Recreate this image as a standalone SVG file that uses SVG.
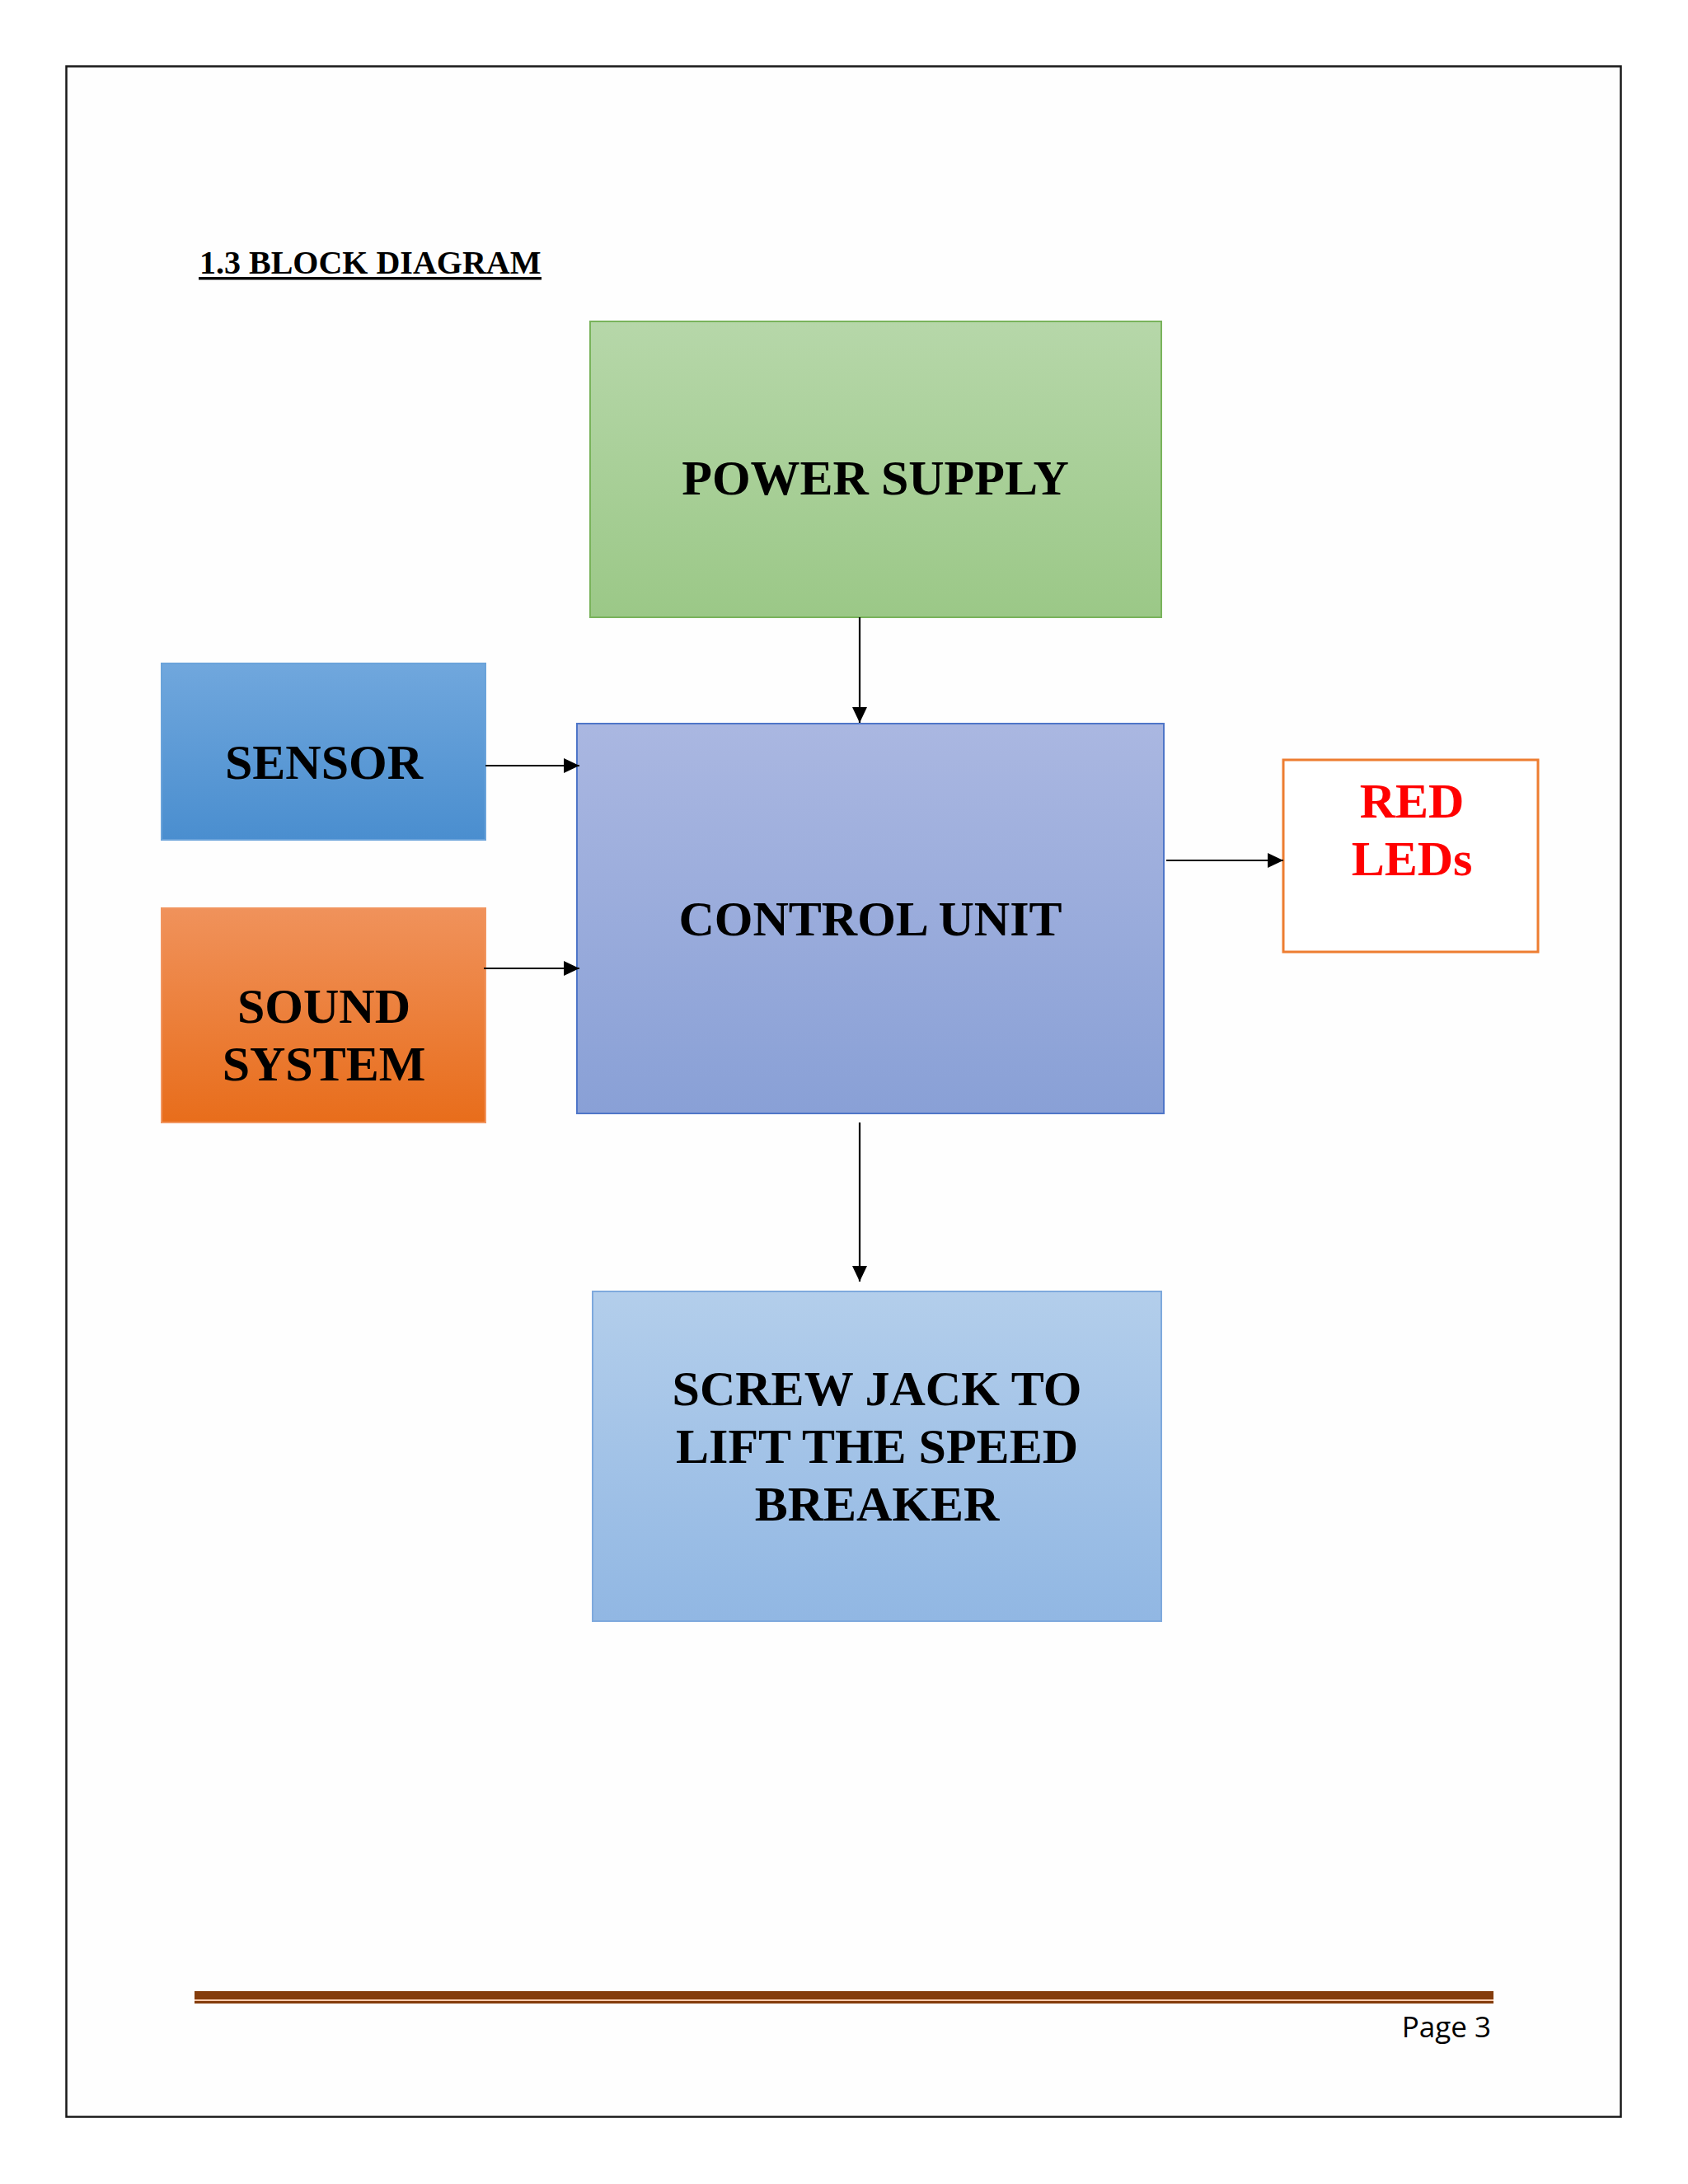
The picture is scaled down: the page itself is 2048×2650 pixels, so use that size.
<svg xmlns="http://www.w3.org/2000/svg" width="2048" height="2650" viewBox="0 0 2048 2650">
  <style>
    .lbl { font-family: "Liberation Serif", "Times New Roman", serif; font-weight: bold; font-size: 60px; fill: #000; text-anchor: middle; }
    .conn { stroke: #000; stroke-width: 2.2; fill: none; marker-end: url(#arrow); }
  </style>
  <defs>
    <marker id="arrow" markerUnits="userSpaceOnUse" markerWidth="20" markerHeight="20" viewBox="0 0 20 20" refX="19" refY="10" orient="auto">
      <path d="M0,1 L19,10 L0,19 Z" fill="#000"/>
    </marker>
    <linearGradient id="gPower" x1="0" y1="0" x2="0" y2="1">
      <stop offset="0" stop-color="#b6d7a9"/>
      <stop offset="1" stop-color="#9bc887"/>
    </linearGradient>
    <linearGradient id="gSensor" x1="0" y1="0" x2="0" y2="1">
      <stop offset="0" stop-color="#70a7dd"/>
      <stop offset="1" stop-color="#4a8ecf"/>
    </linearGradient>
    <linearGradient id="gSound" x1="0" y1="0" x2="0" y2="1">
      <stop offset="0" stop-color="#f0925b"/>
      <stop offset="1" stop-color="#e86d1b"/>
    </linearGradient>
    <linearGradient id="gControl" x1="0" y1="0" x2="0" y2="1">
      <stop offset="0" stop-color="#aab7e1"/>
      <stop offset="1" stop-color="#89a0d6"/>
    </linearGradient>
    <linearGradient id="gScrew" x1="0" y1="0" x2="0" y2="1">
      <stop offset="0" stop-color="#b3ceeb"/>
      <stop offset="1" stop-color="#91b7e3"/>
    </linearGradient>
  </defs>

  <rect x="0" y="0" width="2048" height="2650" fill="#ffffff"/>
  <rect id="page-border" x="80.5" y="80.5" width="1886" height="2488" fill="#fefefe" stroke="#1a1a1a" stroke-width="2.5"/>

  <g id="title">
    <text x="242" y="332" style="font-family: 'Liberation Serif', 'Times New Roman', serif; font-weight: bold; font-size: 40px; fill: #000;">1.3 BLOCK DIAGRAM</text>
    <rect x="241" y="336" width="416" height="3.5" fill="#000"/>
  </g>

  <g id="power-supply">
    <rect x="716" y="390" width="693" height="359" fill="url(#gPower)" stroke="#79b35b" stroke-width="2"/>
    <text class="lbl" x="1062" y="600">POWER SUPPLY</text>
  </g>

  <g id="sensor">
    <rect x="196" y="805" width="393" height="214" fill="url(#gSensor)" stroke="#6aa3da" stroke-width="2"/>
    <text class="lbl" x="393" y="945">SENSOR</text>
  </g>

  <g id="sound-system">
    <rect x="196" y="1102" width="393" height="260" fill="url(#gSound)" stroke="#f1955f" stroke-width="2"/>
    <text class="lbl" x="393" y="1241">SOUND</text>
    <text class="lbl" x="393" y="1311">SYSTEM</text>
  </g>

  <g id="control-unit">
    <rect x="700" y="878" width="712" height="473" fill="url(#gControl)" stroke="#4f76c8" stroke-width="2"/>
    <text class="lbl" x="1056" y="1135">CONTROL UNIT</text>
  </g>

  <g id="red-leds">
    <rect x="1557" y="922" width="309" height="233" fill="#ffffff" stroke="#ed7d31" stroke-width="3"/>
    <text class="lbl" x="1713" y="992" style="fill:#ff0000">RED</text>
    <text class="lbl" x="1713" y="1062" style="fill:#ff0000">LEDs</text>
  </g>

  <g id="screw-jack">
    <rect x="719" y="1567" width="690" height="400" fill="url(#gScrew)" stroke="#7ea9dd" stroke-width="2"/>
    <text class="lbl" x="1064" y="1705">SCREW JACK TO</text>
    <text class="lbl" x="1064" y="1775">LIFT THE SPEED</text>
    <text class="lbl" x="1064" y="1845">BREAKER</text>
  </g>

  <g id="connectors">
    <line class="conn" x1="1043" y1="749" x2="1043" y2="877"/>
    <line class="conn" x1="589" y1="929" x2="703" y2="929"/>
    <line class="conn" x1="587" y1="1175" x2="703" y2="1175"/>
    <line class="conn" x1="1415" y1="1044" x2="1557" y2="1044"/>
    <line class="conn" x1="1043" y1="1362" x2="1043" y2="1555"/>
  </g>

  <g id="footer">
    <rect x="236" y="2416" width="1576" height="10" fill="#843c0c"/>
    <rect x="236" y="2426" width="1576" height="2" fill="#f8cbad"/>
    <rect x="236" y="2428" width="1576" height="3" fill="#843c0c"/>
    <text x="1809" y="2472" style="font-family: 'Open Sans', 'Liberation Sans', sans-serif; font-size: 35px; fill: #000; text-anchor: end;">Page 3</text>
  </g>
</svg>
